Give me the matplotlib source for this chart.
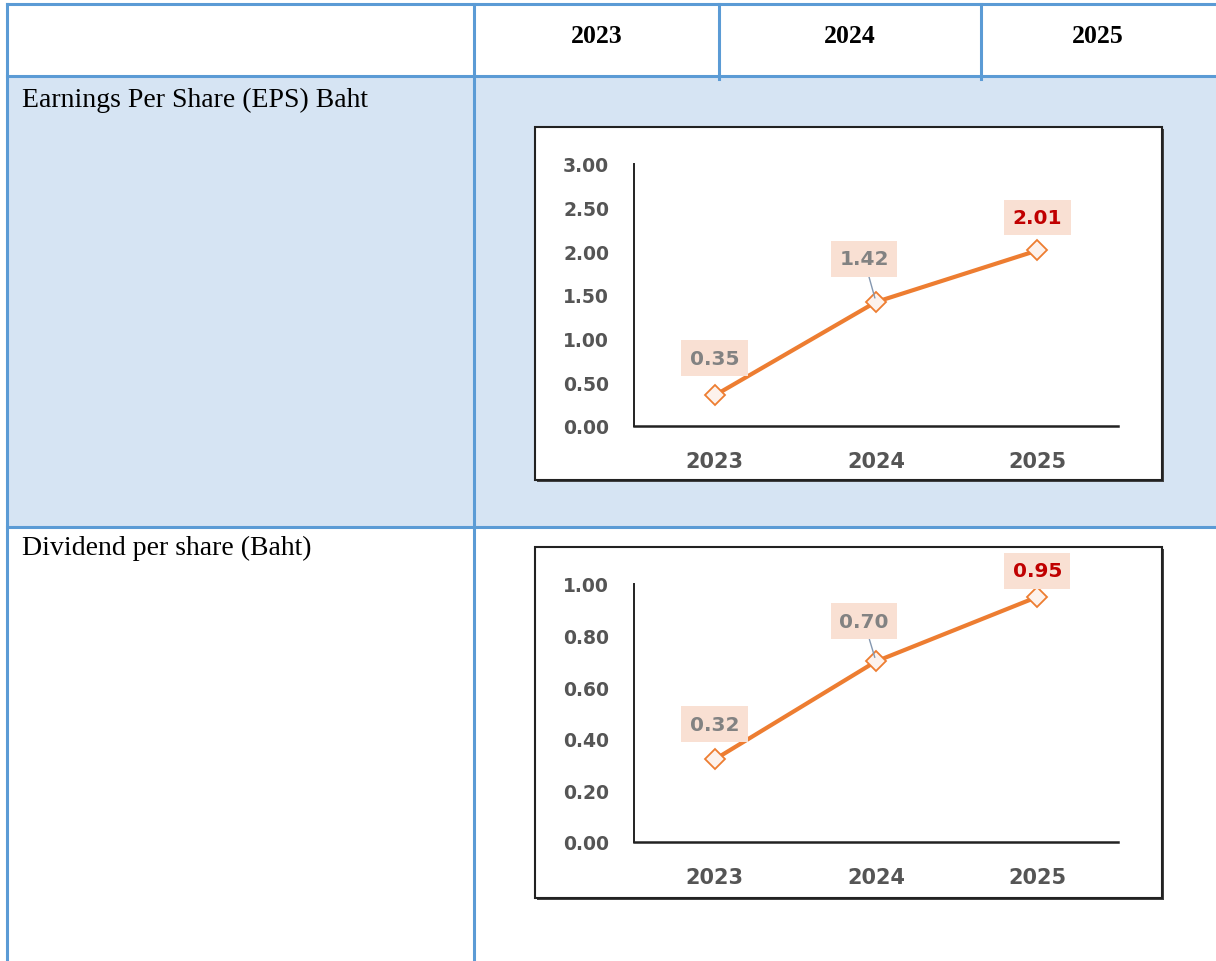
import numpy as np
import matplotlib.pyplot as plt
from matplotlib.patches import Rectangle

# data
years = ["2023", "2024", "2025"]
eps = [0.35, 1.42, 2.01]
dps = [0.32, 0.70, 0.95]
row_names = ["Earnings Per Share (EPS) Baht", "Dividend per share (Baht)"]

# label offsets in pixels (dx, dy) for each point
eps_offsets = [(0, -37), (-12, -43), (0, -33)]
dps_offsets = [(0, -35), (-12, -40), (0, -26)]

W, H = 1216, 962
blue = "#5B9BD5"
orange = "#ED7D31"
label_bg = "#F9E0D3"

fig = plt.figure(figsize=(W / 100, H / 100), dpi=100)

# background axes in pixel coordinates for the table
bg = fig.add_axes([0, 0, 1, 1])
bg.set_xlim(0, W)
bg.set_ylim(H, 0)
bg.axis("off")

# light blue fill of first row
bg.add_patch(Rectangle((7, 77), W - 7, 451, fc="#D6E4F3", ec="none"))

# table lines
bg.plot([7, W], [5, 5], color=blue, lw=2.2)
bg.plot([7, W], [77, 77], color=blue, lw=2.2)
bg.plot([7, W], [528, 528], color=blue, lw=2.2)
bg.plot([7, 7], [5, H], color=blue, lw=2.2)
bg.plot([474, 474], [5, H], color=blue, lw=2.2)
bg.plot([719, 719], [5, 80], color=blue, lw=2.2)
bg.plot([981, 981], [5, 80], color=blue, lw=2.2)

# header text
header_x = [597, 850, 1098]
for x, y in zip(header_x, years):
    bg.text(x, 43, y, ha="center", va="baseline", fontsize=18.5,
            fontweight="bold", family="Liberation Serif", color="black")

bg.text(22, 107, row_names[0], ha="left", va="baseline", fontsize=20,
        family="Liberation Serif", color="black")
bg.text(22, 555, row_names[1], ha="left", va="baseline", fontsize=20,
        family="Liberation Serif", color="black")

# chart frames (with a small shadow)
for top, bottom in [(128, 481), (548, 899)]:
    bg.add_patch(Rectangle((537, top + 2), 627, bottom - top, fc="#444444", ec="none"))
    bg.add_patch(Rectangle((535, top), 627, bottom - top, fc="white", ec="#222222", lw=1.5))


def px_axes(left, top, right, bottom):
    return fig.add_axes([left / W, 1 - bottom / H, (right - left) / W, (bottom - top) / H])


def draw_chart(ax, values, ymax, step, offsets):
    x = np.arange(len(years))
    ax.plot(x, values, color=orange, lw=3.0, marker="D", markersize=10,
            markerfacecolor="#FDF2EC", markeredgecolor=orange, markeredgewidth=1.3,
            clip_on=False, zorder=3)
    ax.set_xlim(-0.5, len(years) - 0.5)
    ax.set_ylim(0, ymax)
    ticks = np.arange(0, ymax + step / 2, step)
    ax.set_yticks(ticks)
    ax.set_yticklabels(["%.2f" % t for t in ticks])
    ax.set_xticks(x)
    ax.set_xticklabels(years)
    ax.patch.set_alpha(0)
    for s in ["top", "right"]:
        ax.spines[s].set_visible(False)
    ax.spines["left"].set_linewidth(1.4)
    ax.spines["bottom"].set_linewidth(1.8)
    ax.spines["left"].set_color("#222222")
    ax.spines["bottom"].set_color("#222222")
    ax.tick_params(axis="y", length=0, pad=18, labelsize=13.5, labelcolor="#555555")
    ax.tick_params(axis="x", length=0, pad=18, labelsize=15, labelcolor="#555555")
    for lab in ax.get_xticklabels() + ax.get_yticklabels():
        lab.set_fontweight("bold")
        lab.set_family("DejaVu Sans")

    for i, v in enumerate(values):
        dx, dy = offsets[i]
        last = i == len(values) - 1
        arrow = None
        if i == 1:
            arrow = dict(arrowstyle="-", color="#8497B0", lw=1.0, shrinkA=0, shrinkB=3)
        ax.annotate("%.2f" % v, xy=(i, v), xytext=(dx * 0.72, -dy * 0.72),
                    textcoords="offset points", ha="center", va="center",
                    fontsize=14.5, fontweight="bold",
                    family="DejaVu Sans",
                    color="#C00000" if last else "#828282",
                    bbox=dict(boxstyle="square,pad=0.42", fc=label_bg, ec="none"),
                    arrowprops=arrow, annotation_clip=False, zorder=4)


ax1 = px_axes(634, 165, 1118, 427)
draw_chart(ax1, eps, 3.0, 0.5, eps_offsets)

ax2 = px_axes(634, 585, 1118, 843)
draw_chart(ax2, dps, 1.0, 0.2, dps_offsets)

plt.savefig("out.png", dpi=100)
plt.close()
